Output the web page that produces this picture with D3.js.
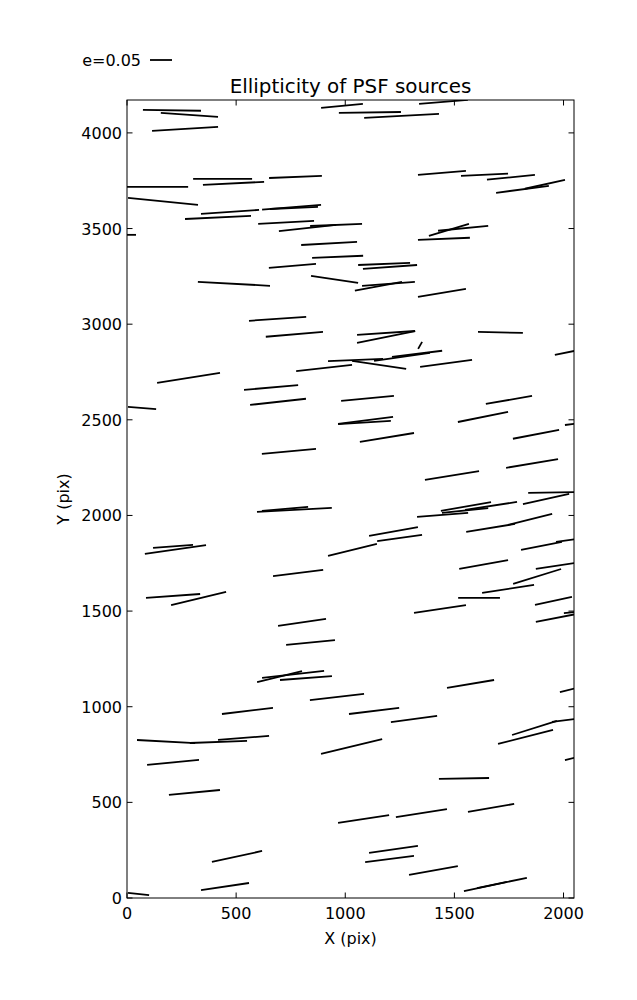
<!DOCTYPE html>
<html><head><meta charset="utf-8">
<script src="https://cdn.jsdelivr.net/npm/d3@7"></script>
<style>body{margin:0;background:#fff;} svg{display:block;} text{font-family:"DejaVu Sans",sans-serif;fill:#000;}</style>
</head><body>
<svg id="c" width="637" height="1000"></svg>
<script>
// Whisker centres (pix) and ellipticity components
const xs = [206,286,266,985,1113,1258,1450,438,488,772, 140,1443,1638,1759,1812,1915,165,472,417,754, 765,729,827,958,1452,1475,1540,5,926,965, 758,1178,1205,951,1198,1152,1443,490,690,767, 1187,1187,1343,1711,1047,1155,903,1260,1329,1462, 282,2041,660,692,69,1102,1093,1088,1750,1631, 1874,2064,1191,742,1489,1856,1957,1920,1446,1553, 1549,1668,767,724,1666,1847,1221,1249,1033,222, 211,1899,2032,784,1634,1979,1879,1746,1613,211, 328,1434,1954,1979,2050,802,841,699,761,820, 1574,2041,962,552,1132,1315,179,419,534,211, 1029,1867,1826,2034,2064,309,1544,1084,1349,1668, 504,1221,1203,1404,449,53,1688,1672];
const ys = [4118,4094,4021,4141,4107,4089,4162,3760,3736,3770, 3718,3791,3781,3768,3705,3731,3642,3587,3558,3611, 3608,3532,3503,3519,3446,3493,3501,3467,3422,3352, 3305,3315,3299,3234,3211,3198,3164,3211,3028,2947, 2954,2933,2889,2957,2813,2787,2771,2829,2845,2795, 2719,2858,2669,2594,2562,2612,2497,2486,2604,2515, 2424,2481,2408,2335,2209,2272,2120,2086,2003,2047, 2026,2050,2029,2034,1935,1979,1916,1882,1820,1822, 1838,1841,1872,1699,1744,1739,1681,1616,1569,1579, 1566,1511,1553,1467,1495,1441,1336,1158,1169,1150, 1119,1093,1051,978,978,936,818,816,837,709, 792,889,842,933,737,552,625,413,444,471, 217,254,204,144,60,21,71,68];
const ex = [.132,.130,.150,.095,.141,.170,.111,.134,.139,.120, .139,.109,.107,.109,.120,.091,.159,.132,.150,.134, .109,.127,.130,.118,.118,.091,.114,.036,.127,.116, .107,.118,.123,.107,.120,.107,.109,.164,.130,.130, .132,.132,.009,.102,.125,.123,.127,.127,.114,.118, .143,.080,.123,.127,.064,.120,.125,.120,.105,.114, .105,.057,.123,.123,.123,.118,.118,.105,.116,.114, .105,.118,.170,.105,.111,.100,.111,.102,.111,.139, .091,.093,.066,.114,.111,.105,.109,.118,.095,.123, .125,.118,.084,.105,.048,.109,.111,.102,.141,.118, .107,.057,.123,.116,.114,.105,.132,.130,.116,.118, .139,.102,.125,.086,.057,.116,.114,.116,.116,.105, .114,.111,.111,.111,.109,.048,.143,.068];
const ey = [-.002,-.009,.009,.009,.002,.009,.009,0,.007,.005, 0,.009,.005,.011,.016,.020,-.016,.009,.007,.011, .005,.007,.014,.005,.005,.027,.011,0,.007,.005, .009,.005,.009,-.016,.009,.020,.018,-.009,.009,.011, .009,.027,.016,-.002,.005,-.018,.014,.018,.014,.016, .023,.016,.011,.014,-.005,.011,.016,.007,.018,.023, .020,.007,.020,.011,.020,.020,.002,.023,.009,.020, .011,.018,.009,.009,.018,.025,.020,.014,.027,.020, .007,.018,.009,.014,.020,.016,.034,.018,0,.009, .030,.018,.018,.020,.005,.016,.011,.025,.016,.009, .018,.014,.014,.014,.014,.014,-.007,.005,.009,.011, .034,.032,.032,.011,.014,.011,.002,.018,.018,.018, .025,.016,.014,.020,.016,-.005,.030,.014];
const xTicks = [0,500,1000,1500,2000];
const yTicks = [0,500,1000,1500,2000,2500,3000,3500,4000];
const keyE = 0.05;

const svg = d3.select("#c");
const L = 127, R = 574, T = 100, B = 898;
const x = d3.scaleLinear().domain([0,2048]).range([L,R]);
const y = d3.scaleLinear().domain([0,4172]).range([B,T]);
const K = 440; // px per unit ellipticity

svg.append("defs").append("clipPath").attr("id","clip")
  .append("rect").attr("x",L).attr("y",T).attr("width",R-L).attr("height",B-T);

const g = svg.append("g").attr("clip-path","url(#clip)");
g.selectAll("line").data(xs.map((d,i)=>i)).enter().append("line")
  .attr("x1",i=>x(xs[i]) - ex[i]*K/2)
  .attr("y1",i=>y(ys[i]) + ey[i]*K/2)
  .attr("x2",i=>x(xs[i]) + ex[i]*K/2)
  .attr("y2",i=>y(ys[i]) - ey[i]*K/2)
  .attr("stroke","#000").attr("stroke-width",1.8);

// axes (inward ticks, all four sides)
const tl = 5.5;
const ax = svg.append("g").attr("stroke","#000").attr("stroke-width",1);
xTicks.forEach(t=>{
  ax.append("line").attr("x1",x(t)).attr("x2",x(t)).attr("y1",B).attr("y2",B-tl);
  ax.append("line").attr("x1",x(t)).attr("x2",x(t)).attr("y1",T).attr("y2",T+tl);
});
yTicks.forEach(t=>{
  ax.append("line").attr("y1",y(t)).attr("y2",y(t)).attr("x1",L).attr("x2",L+tl);
  ax.append("line").attr("y1",y(t)).attr("y2",y(t)).attr("x1",R).attr("x2",R-tl);
});
svg.append("rect").attr("x",L).attr("y",T).attr("width",R-L).attr("height",B-T)
  .attr("fill","none").attr("stroke","#000").attr("stroke-width",1);

svg.selectAll(".xt").data(xTicks).enter().append("text")
  .attr("x",d=>x(d)).attr("y",B+21).attr("text-anchor","middle").attr("font-size",16).text(d=>d);
svg.selectAll(".yt").data(yTicks).enter().append("text")
  .attr("x",L-5).attr("y",d=>y(d)+6).attr("text-anchor","end").attr("font-size",16).text(d=>d);

svg.append("text").attr("x",(L+R)/2).attr("y",944).attr("text-anchor","middle").attr("font-size",16).text("X (pix)");
svg.append("text").attr("transform","translate(69,"+((T+B)/2)+") rotate(-90)").attr("text-anchor","middle").attr("font-size",16).text("Y (pix)");
svg.append("text").attr("x",(L+R)/2).attr("y",93).attr("text-anchor","middle").attr("font-size",19.9).text("Ellipticity of PSF sources");

// key
svg.append("line").attr("x1",150).attr("x2",150+keyE*K).attr("y1",60).attr("y2",60).attr("stroke","#000").attr("stroke-width",1.8);
svg.append("text").attr("x",141).attr("y",66).attr("text-anchor","end").attr("font-size",16).text("e=" + keyE.toFixed(2));
</script>
</body></html>
